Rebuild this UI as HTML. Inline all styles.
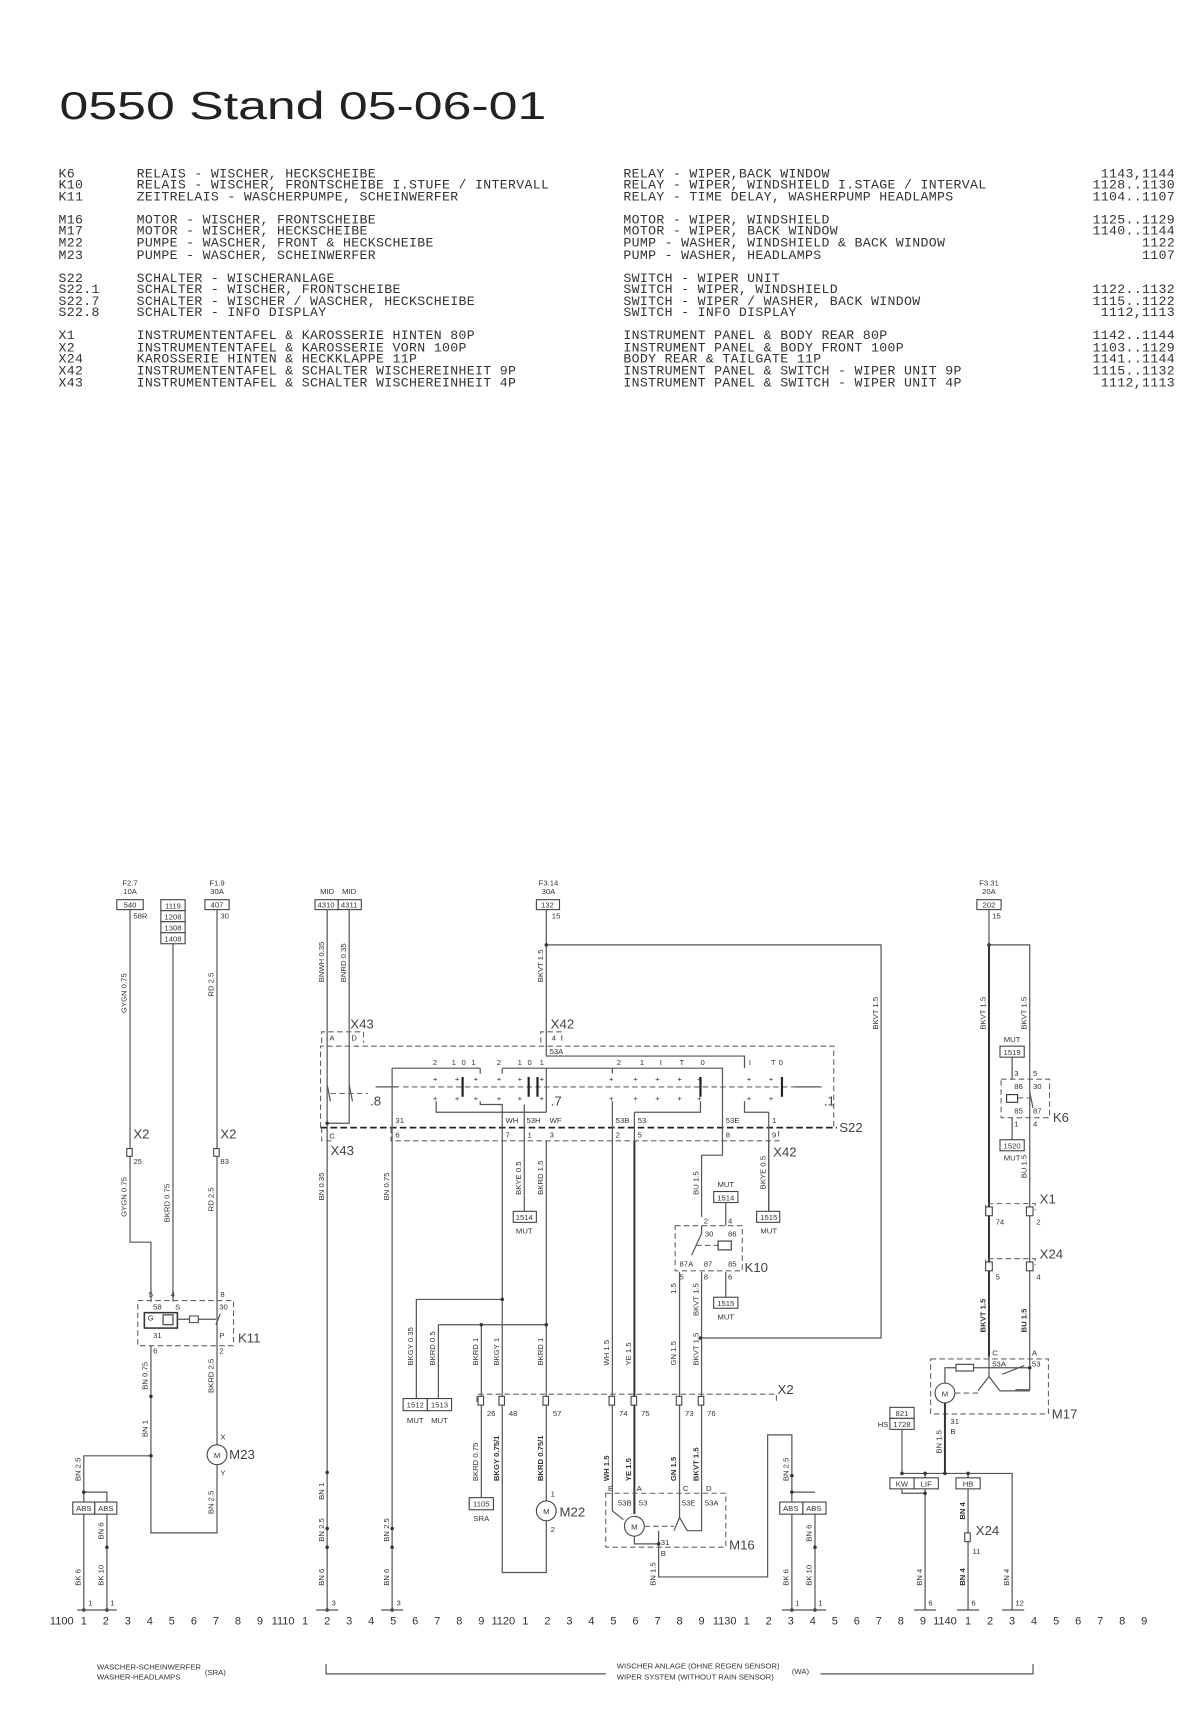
<!DOCTYPE html>
<html><head><meta charset="utf-8"><style>
html,body{margin:0;padding:0;background:#fff;}
svg{display:block}
.m{font-family:"Liberation Mono",monospace;font-size:12px;fill:#333;letter-spacing:0.3px}
.t{font-family:"Liberation Sans",sans-serif;fill:#222}
.s{font-family:"Liberation Sans",sans-serif;font-size:7px;fill:#333}
.l{font-family:"Liberation Sans",sans-serif;font-size:12px;fill:#444}
.n{font-family:"Liberation Sans",sans-serif;font-size:10px;fill:#333}
.w{stroke:#555;stroke-width:1.1;fill:none}
.W{stroke:#333;stroke-width:1.8;fill:none}
.d{stroke:#666;stroke-width:1;fill:none;stroke-dasharray:5,3}
.D{stroke:#222;stroke-width:1.6;fill:none;stroke-dasharray:6,3}
.b{stroke:#444;stroke-width:1;fill:#fff}
</style></head><body>
<svg width="1195" height="1719" viewBox="0 0 1085 1561" xmlns="http://www.w3.org/2000/svg">
<text class="t" x="54" y="108" font-size="35" textLength="442" lengthAdjust="spacingAndGlyphs">0550 Stand 05-06-01</text>

<g class="m">
<text x="53" y="161">K6</text><text x="124" y="161">RELAIS - WISCHER, HECKSCHEIBE</text>
<text x="53" y="171">K10</text><text x="124" y="171">RELAIS - WISCHER, FRONTSCHEIBE I.STUFE / INTERVALL</text>
<text x="53" y="182">K11</text><text x="124" y="182">ZEITRELAIS - WASCHERPUMPE, SCHEINWERFER</text>
<text x="53" y="203">M16</text><text x="124" y="203">MOTOR - WISCHER, FRONTSCHEIBE</text>
<text x="53" y="213">M17</text><text x="124" y="213">MOTOR - WISCHER, HECKSCHEIBE</text>
<text x="53" y="224">M22</text><text x="124" y="224">PUMPE - WASCHER, FRONT &amp; HECKSCHEIBE</text>
<text x="53" y="235">M23</text><text x="124" y="235">PUMPE - WASCHER, SCHEINWERFER</text>
<text x="53" y="256">S22</text><text x="124" y="256">SCHALTER - WISCHERANLAGE</text>
<text x="53" y="266">S22.1</text><text x="124" y="266">SCHALTER - WISCHER, FRONTSCHEIBE</text>
<text x="53" y="277">S22.7</text><text x="124" y="277">SCHALTER - WISCHER / WASCHER, HECKSCHEIBE</text>
<text x="53" y="287">S22.8</text><text x="124" y="287">SCHALTER - INFO DISPLAY</text>
<text x="53" y="308">X1</text><text x="124" y="308">INSTRUMENTENTAFEL &amp; KAROSSERIE HINTEN 80P</text>
<text x="53" y="319">X2</text><text x="124" y="319">INSTRUMENTENTAFEL &amp; KAROSSERIE VORN 100P</text>
<text x="53" y="329">X24</text><text x="124" y="329">KAROSSERIE HINTEN &amp; HECKKLAPPE 11P</text>
<text x="53" y="340">X42</text><text x="124" y="340">INSTRUMENTENTAFEL &amp; SCHALTER WISCHEREINHEIT 9P</text>
<text x="53" y="351">X43</text><text x="124" y="351">INSTRUMENTENTAFEL &amp; SCHALTER WISCHEREINHEIT 4P</text>

<text x="566" y="161">RELAY - WIPER,BACK WINDOW</text>
<text x="566" y="171">RELAY - WIPER, WINDSHIELD I.STAGE / INTERVAL</text>
<text x="566" y="182">RELAY - TIME DELAY, WASHERPUMP HEADLAMPS</text>
<text x="566" y="203">MOTOR - WIPER, WINDSHIELD</text>
<text x="566" y="213">MOTOR - WIPER, BACK WINDOW</text>
<text x="566" y="224">PUMP - WASHER, WINDSHIELD &amp; BACK WINDOW</text>
<text x="566" y="235">PUMP - WASHER, HEADLAMPS</text>
<text x="566" y="256">SWITCH - WIPER UNIT</text>
<text x="566" y="266">SWITCH - WIPER, WINDSHIELD</text>
<text x="566" y="277">SWITCH - WIPER / WASHER, BACK WINDOW</text>
<text x="566" y="287">SWITCH - INFO DISPLAY</text>
<text x="566" y="308">INSTRUMENT PANEL &amp; BODY REAR 80P</text>
<text x="566" y="319">INSTRUMENT PANEL &amp; BODY FRONT 100P</text>
<text x="566" y="329">BODY REAR &amp; TAILGATE 11P</text>
<text x="566" y="340">INSTRUMENT PANEL &amp; SWITCH - WIPER UNIT 9P</text>
<text x="566" y="351">INSTRUMENT PANEL &amp; SWITCH - WIPER UNIT 4P</text>
<g text-anchor="end">
<text x="1067" y="161">1143,1144</text><text x="1067" y="171">1128..1130</text><text x="1067" y="182">1104..1107</text>
<text x="1067" y="203">1125..1129</text><text x="1067" y="213">1140..1144</text><text x="1067" y="224">1122</text><text x="1067" y="235">1107</text>
<text x="1067" y="266">1122..1132</text><text x="1067" y="277">1115..1122</text><text x="1067" y="287">1112,1113</text>
<text x="1067" y="308">1142..1144</text><text x="1067" y="319">1103..1129</text><text x="1067" y="329">1141..1144</text><text x="1067" y="340">1115..1132</text><text x="1067" y="351">1112,1113</text>
</g></g>

<!-- ===== LEFT SECTION ===== -->
<text class="s" x="118" y="804" text-anchor="middle">F2.7</text><text class="s" x="118" y="812" text-anchor="middle">10A</text>
<rect class="b" x="106" y="817" width="24" height="9"/><text class="s" x="118" y="824" text-anchor="middle">540</text>
<text class="s" x="121" y="834">58R</text>
<rect class="b" x="146" y="817" width="22" height="10"/><text class="s" x="157" y="825" text-anchor="middle">1119</text>
<rect class="b" x="146" y="827" width="22" height="10"/><text class="s" x="157" y="835" text-anchor="middle">1208</text>
<rect class="b" x="146" y="837" width="22" height="10"/><text class="s" x="157" y="845" text-anchor="middle">1308</text>
<rect class="b" x="146" y="847" width="22" height="10"/><text class="s" x="157" y="855" text-anchor="middle">1408</text>
<text class="s" x="197" y="804" text-anchor="middle">F1.9</text><text class="s" x="197" y="812" text-anchor="middle">30A</text>
<rect class="b" x="186" y="817" width="22" height="9"/><text class="s" x="197" y="824" text-anchor="middle">407</text>
<text class="s" x="200" y="834">30</text>

<path class="w" d="M118 826 V1128 H137 V1182 M157 857 V1182 M197 826 V1312 M197 1330 V1392 H137 V1222 M137 1322 H76 V1462 M76 1355 H97 V1462"/>
<rect x="115" y="1043" width="5" height="7" fill="#fff" stroke="#444"/><text class="l" x="121" y="1034">X2</text><text class="s" x="121" y="1057">25</text>
<rect x="194" y="1043" width="5" height="7" fill="#fff" stroke="#444"/><text class="l" x="200" y="1034">X2</text><text class="s" x="200" y="1057">83</text>
<g class="s">
<text transform="translate(115,920) rotate(-90)">GYGN 0.75</text>
<text transform="translate(115,1105) rotate(-90)">GYGN 0.75</text>
<text transform="translate(154,1110) rotate(-90)">BKRD 0.75</text>
<text transform="translate(194,905) rotate(-90)">RD 2.5</text>
<text transform="translate(194,1100) rotate(-90)">RD 2.5</text>
<text transform="translate(134,1262) rotate(-90)">BN 0.75</text>
<text transform="translate(134,1305) rotate(-90)">BN 1</text>
<text transform="translate(194,1265) rotate(-90)">BKRD 2.5</text>
<text transform="translate(194,1375) rotate(-90)">BN 2.5</text>
<text transform="translate(73,1345) rotate(-90)">BN 2.5</text>
<text transform="translate(94,1398) rotate(-90)">BN 6</text>
<text transform="translate(73,1440) rotate(-90)">BK 6</text>
<text transform="translate(94,1440) rotate(-90)">BK 10</text>
</g>
<!-- K11 -->
<rect class="d" x="125" y="1181" width="87" height="41"/>
<text class="s" x="135" y="1178">5</text><text class="s" x="155" y="1178">4</text><text class="s" x="200" y="1178">8</text>
<text class="s" x="139" y="1189">58</text><text class="s" x="159" y="1189">S</text><text class="s" x="199" y="1189">30</text>
<rect x="131" y="1192" width="30" height="14" fill="none" stroke="#333" stroke-width="1.4"/>
<text class="s" x="134" y="1199">G</text><rect x="148" y="1194" width="9" height="9" fill="none" stroke="#333"/>
<path class="w" d="M161 1198 H172 M172 1195 h8 v6 h-8 z M180 1198 h8 M188 1198 h8" />
<path class="w" d="M196 1203 L200 1193"/>
<text class="s" x="139" y="1215">31</text><text class="s" x="199" y="1215">P</text>
<text class="s" x="139" y="1229">6</text><text class="s" x="199" y="1229">2</text>
<text class="l" x="216" y="1219">K11</text>
<!-- M23 -->
<circle cx="197" cy="1321" r="9" fill="#fff" stroke="#444"/><text class="s" x="197" y="1324" text-anchor="middle">M</text>
<text class="s" x="200" y="1307">X</text><text class="s" x="200" y="1340">Y</text>
<text class="l" x="208" y="1325">M23</text>
<rect class="b" x="66" y="1364" width="20" height="11"/><rect class="b" x="86" y="1364" width="20" height="11"/>
<text class="s" x="76" y="1372" text-anchor="middle">ABS</text><text class="s" x="96" y="1372" text-anchor="middle">ABS</text>
<g fill="#333"><circle cx="137" cy="1268" r="1.6"/><circle cx="137" cy="1322" r="1.6"/><circle cx="76" cy="1355" r="1.6"/><circle cx="97" cy="1405" r="1.6"/><circle cx="76" cy="1462" r="1.6"/><circle cx="97" cy="1462" r="1.6"/></g>
<path class="w" d="M70 1462 H106"/><text class="s" x="80" y="1458">1</text><text class="s" x="100" y="1458">1</text>

<!-- ===== MIDDLE SECTION ===== -->
<text class="s" x="297" y="812" text-anchor="middle">MID</text><text class="s" x="317" y="812" text-anchor="middle">MID</text>
<rect class="b" x="286" y="817" width="21" height="9"/><rect class="b" x="307" y="817" width="21" height="9"/>
<text class="s" x="296" y="824" text-anchor="middle">4310</text><text class="s" x="317" y="824" text-anchor="middle">4311</text>
<text class="s" x="498" y="804" text-anchor="middle">F3.14</text><text class="s" x="498" y="812" text-anchor="middle">30A</text>
<rect class="b" x="487" y="817" width="21" height="9"/><text class="s" x="497" y="824" text-anchor="middle">132</text>
<text class="s" x="501" y="834">15</text>

<path class="w" d="M297 826 V1462 M317 826 V1020 H297 M496 826 V947 M496 858 H800 V1215 H636"/>
<g class="s">
<text transform="translate(294,892) rotate(-90)">BNWH 0.35</text>
<text transform="translate(314,892) rotate(-90)">BNRD 0.35</text>
<text transform="translate(493,892) rotate(-90)">BKVT 1.5</text>
<text transform="translate(797,935) rotate(-90)">BKVT 1.5</text>
<text transform="translate(294,1090) rotate(-90)">BN 0.35</text>
<text transform="translate(353,1090) rotate(-90)">BN 0.75</text>
</g>
<!-- X43 / X42 top -->
<path class="d" d="M292 947 V937 H330 V947 M491 947 V937 H510 V947"/>
<text class="s" x="299" y="945">A</text><text class="s" x="319" y="945">D</text><text class="s" x="501" y="945">4</text>
<text class="l" x="318" y="934">X43</text><text class="l" x="500" y="934">X42</text>
<!-- S22 box -->
<path class="d" d="M291 1024 V950 H757 V1024"/>
<path class="D" d="M291 1024 H760"/>
<path class="d" d="M355 1024 V1036 H707 V1024 M292 1024 V1036 H304"/>
<text class="l" x="762" y="1028">S22</text>
<text class="s" x="299" y="1034">C</text><text class="l" x="300" y="1049">X43</text>
<text class="s" x="359" y="1033">6</text><text class="s" x="459" y="1033">7</text><text class="s" x="479" y="1033">1</text><text class="s" x="499" y="1033">3</text>
<text class="s" x="559" y="1033">2</text><text class="s" x="579" y="1033">5</text><text class="s" x="659" y="1033">8</text><text class="s" x="701" y="1033">9</text>
<text class="l" x="702" y="1050">X42</text>
<text class="s" x="359" y="1020">31</text><text class="s" x="459" y="1020">WH</text><text class="s" x="478" y="1020">53H</text><text class="s" x="499" y="1020">WF</text>
<text class="s" x="559" y="1020">53B</text><text class="s" x="579" y="1020">53</text><text class="s" x="659" y="1020">53E</text><text class="s" x="701" y="1020">1</text>
<text class="s" x="499" y="957">53A</text>
<!-- switch .8 -->
<path class="w" d="M297 985 L300 1000 M317 985 L320 1000"/>
<path class="d" d="M300 993 H334"/><text class="l" x="336" y="1004">.8</text>
<!-- S22 internals -->
<path class="w" d="M496 947 V959 H676 V970 M356 970 H436 M456 970 H496 H656 V1049 H637 M436 970 V975 M456 970 V975"/>
<path class="w" d="M356 970 V1462 M456 1010 V1180 M476 1010 V1100 M496 970 V1010 M556 970 V975 M556 1000 V1362 M576 1010 V1362 M698 1010 V1110"/>
<path class="w" d="M396 1000 V1010 H496 M436 1000 V1003 H456 V1010 M476 1003 V1010 M576 1010 H636 V1000 M676 1000 V1010 H698"/>
<path class="d" d="M366 987 H742"/>
<path stroke="#222" stroke-width="2" d="M420 978 V996 M480 978 V996 M488 978 V996 M636 978 V996 M710 978 V996"/>
<path class="w" d="M341 987 H362 M722 987 H746"/>
<g class="s">
<text x="393" y="967">2</text><text x="410" y="967">1</text><text x="419" y="967">0</text><text x="428" y="967">1</text>
<text x="451" y="967">2</text><text x="470" y="967">1</text><text x="479" y="967">0</text><text x="490" y="967">1</text>
<text x="560" y="967">2</text><text x="581" y="967">1</text><text x="599" y="967">I</text><text x="617" y="967">T</text><text x="636" y="967">0</text>
<text x="680" y="967">I</text><text x="700" y="967">T</text><text x="707" y="967">0</text>
</g>
<g class="s" fill="#444">
<text x="393" y="982">+</text><text x="413" y="982">+</text><text x="430" y="982">+</text><text x="451" y="982">+</text><text x="470" y="982">+</text><text x="490" y="982">+</text>
<text x="393" y="1000">+</text><text x="413" y="1000">+</text><text x="430" y="1000">+</text><text x="451" y="1000">+</text><text x="470" y="1000">+</text><text x="490" y="1000">+</text>
<text x="553" y="982">+</text><text x="575" y="982">+</text><text x="595" y="982">+</text><text x="615" y="982">+</text><text x="633" y="982">+</text><text x="678" y="982">+</text><text x="698" y="982">+</text>
<text x="553" y="1000">+</text><text x="575" y="1000">+</text><text x="595" y="1000">+</text><text x="615" y="1000">+</text><text x="633" y="1000">+</text><text x="678" y="1000">+</text><text x="698" y="1000">+</text>
</g>
<text class="l" x="500" y="1004">.7</text><text class="l" x="748" y="1004">.1</text>

<!-- below S22 -->
<path class="w" d="M456 1180 H378 V1270 M496 1036 V1365 M496 1380 V1428 H456 V1180 M496 1203 H398 V1270 M437 1203 V1360 M476 1100 V1110"/>
<path class="W" d="M576 1036 V1375"/>
<path class="w" d="M637 1049 V1105 M659 1092 V1113 M617 1155 V1362 M637 1155 V1362 M659 1155 V1178 M698 1036 V1110"/>
<g class="s">
<text transform="translate(473,1085) rotate(-90)">BKYE 0.5</text>
<text transform="translate(493,1085) rotate(-90)">BKRD 1.5</text>
<text transform="translate(634,1085) rotate(-90)">BU 1.5</text>
<text transform="translate(695,1080) rotate(-90)">BKYE 0.5</text>
<text transform="translate(634,1195) rotate(-90)">BKVT 1.5</text>
<text transform="translate(614,1175) rotate(-90)">1.5</text>
<text transform="translate(375,1240) rotate(-90)">BKGY 0.35</text>
<text transform="translate(395,1240) rotate(-90)">BKRD 0.5</text>
<text transform="translate(434,1240) rotate(-90)">BKRD 1</text>
<text transform="translate(453,1240) rotate(-90)">BKGY 1</text>
<text transform="translate(493,1240) rotate(-90)">BKRD 1</text>
<text transform="translate(553,1240) rotate(-90)">WH 1.5</text>
<text transform="translate(573,1240) rotate(-90)">YE 1.5</text>
<text transform="translate(614,1240) rotate(-90)">GN 1.5</text>
<text transform="translate(634,1240) rotate(-90)">BKVT 1.5</text>
<text transform="translate(434,1345) rotate(-90)">BKRD 0.75</text>
<text transform="translate(453,1345) rotate(-90)" font-weight="bold">BKGY 0.75/1</text>
<text transform="translate(493,1345) rotate(-90)" font-weight="bold">BKRD 0.75/1</text>
<text transform="translate(553,1345) rotate(-90)" font-weight="bold">WH 1.5</text>
<text transform="translate(573,1345) rotate(-90)" font-weight="bold">YE 1.5</text>
<text transform="translate(614,1345) rotate(-90)" font-weight="bold">GN 1.5</text>
<text transform="translate(634,1345) rotate(-90)" font-weight="bold">BKVT 1.5</text>
<text transform="translate(294,1362) rotate(-90)">BN 1</text>
<text transform="translate(294,1400) rotate(-90)">BN 2.5</text>
<text transform="translate(294,1440) rotate(-90)">BN 6</text>
<text transform="translate(353,1400) rotate(-90)">BN 2.5</text>
<text transform="translate(353,1440) rotate(-90)">BN 6</text>
<text transform="translate(595,1440) rotate(-90)">BN 1.5</text>
<text transform="translate(716,1345) rotate(-90)">BN 2.5</text>
<text transform="translate(716,1440) rotate(-90)">BK 6</text>
<text transform="translate(737,1400) rotate(-90)">BN 6</text>
<text transform="translate(737,1440) rotate(-90)">BK 10</text>
</g>
<rect class="b" x="466" y="1100" width="21" height="10"/><text class="s" x="476" y="1108" text-anchor="middle">1514</text><text class="s" x="476" y="1120" text-anchor="middle">MUT</text>
<rect class="b" x="687" y="1100" width="21" height="10"/><text class="s" x="698" y="1108" text-anchor="middle">1515</text><text class="s" x="698" y="1120" text-anchor="middle">MUT</text>
<text class="s" x="659" y="1078" text-anchor="middle">MUT</text>
<rect class="b" x="648" y="1082" width="22" height="10"/><text class="s" x="659" y="1090" text-anchor="middle">1514</text>
<rect class="b" x="648" y="1178" width="22" height="10"/><text class="s" x="659" y="1186" text-anchor="middle">1515</text><text class="s" x="659" y="1198" text-anchor="middle">MUT</text>
<!-- K10 -->
<rect class="d" x="613" y="1113" width="61" height="41"/>
<text class="s" x="639" y="1111">2</text><text class="s" x="661" y="1111">4</text>
<text class="s" x="640" y="1123">30</text><text class="s" x="661" y="1123">86</text>
<path class="w" d="M637 1113 V1120 L628 1140"/><path class="d" d="M632 1131 H652"/><rect x="652" y="1127" width="12" height="8" fill="none" stroke="#333"/>
<text class="s" x="617" y="1150">87A</text><text class="s" x="639" y="1150">87</text><text class="s" x="661" y="1150">85</text>
<text class="s" x="617" y="1162">5</text><text class="s" x="639" y="1162">8</text><text class="s" x="661" y="1162">6</text>
<text class="l" x="676" y="1155">K10</text>
<!-- MUT boxes 1512/1513, 1105 -->
<rect class="b" x="366" y="1270" width="22" height="11"/><rect class="b" x="388" y="1270" width="22" height="11"/>
<text class="s" x="377" y="1278" text-anchor="middle">1512</text><text class="s" x="399" y="1278" text-anchor="middle">1513</text>
<text class="s" x="377" y="1292" text-anchor="middle">MUT</text><text class="s" x="399" y="1292" text-anchor="middle">MUT</text>
<rect class="b" x="426" y="1360" width="22" height="11"/><text class="s" x="437" y="1368" text-anchor="middle">1105</text><text class="s" x="437" y="1381" text-anchor="middle">SRA</text>
<!-- X2 middle -->
<path class="d" d="M433 1273 V1266 H705 V1273"/><text class="l" x="706" y="1266">X2</text>
<g fill="#fff" stroke="#444"><rect x="434" y="1268" width="5" height="8"/><rect x="453" y="1268" width="5" height="8"/><rect x="493" y="1268" width="5" height="8"/><rect x="553" y="1268" width="5" height="8"/><rect x="573" y="1268" width="5" height="8"/><rect x="614" y="1268" width="5" height="8"/><rect x="634" y="1268" width="5" height="8"/></g>
<g class="s"><text x="442" y="1286">26</text><text x="462" y="1286">48</text><text x="502" y="1286">57</text><text x="562" y="1286">74</text><text x="582" y="1286">75</text><text x="622" y="1286">73</text><text x="642" y="1286">76</text></g>
<!-- M22 -->
<circle cx="496" cy="1372" r="9" fill="#fff" stroke="#444"/><text class="s" x="496" y="1375" text-anchor="middle">M</text>
<text class="s" x="500" y="1359">1</text><text class="s" x="500" y="1391">2</text><text class="l" x="508" y="1377">M22</text>
<!-- M16 -->
<rect class="d" x="550" y="1356" width="109" height="49"/>
<text class="s" x="552" y="1354">E</text><text class="s" x="578" y="1354">A</text><text class="s" x="620" y="1354">C</text><text class="s" x="641" y="1354">D</text>
<text class="s" x="561" y="1367">53B</text><text class="s" x="580" y="1367">53</text><text class="s" x="619" y="1367">53E</text><text class="s" x="640" y="1367">53A</text>
<path class="w" d="M556 1362 V1372 L566 1380 M617 1362 V1378 L612 1390 M617 1378 L624 1390 H637 V1362"/>
<circle cx="576" cy="1386" r="9" fill="#fff" stroke="#444"/><text class="s" x="576" y="1389" text-anchor="middle">M</text>
<path class="d" d="M585 1386 H612"/>
<path class="w" d="M576 1395 V1402 H598 M598 1390 V1432 H697 V1303 H719 V1462 M740 1364 V1462 M719 1355 H740"/>
<text class="s" x="600" y="1403">31</text><text class="s" x="600" y="1413">B</text><text class="l" x="662" y="1407">M16</text>
<rect class="b" x="708" y="1364" width="21" height="11"/><rect class="b" x="729" y="1364" width="21" height="11"/>
<text class="s" x="718" y="1372" text-anchor="middle">ABS</text><text class="s" x="739" y="1372" text-anchor="middle">ABS</text>
<g fill="#333"><circle cx="496" cy="858" r="1.6"/><circle cx="297" cy="1020" r="1.6"/><circle cx="456" cy="1180" r="1.6"/><circle cx="496" cy="1203" r="1.6"/><circle cx="437" cy="1203" r="1.6"/><circle cx="636" cy="1215" r="1.6"/><circle cx="297" cy="1337" r="1.6"/><circle cx="297" cy="1388" r="1.6"/><circle cx="297" cy="1405" r="1.6"/><circle cx="356" cy="1388" r="1.6"/><circle cx="356" cy="1405" r="1.6"/><circle cx="598" cy="1402" r="1.6"/><circle cx="719" cy="1340" r="1.6"/><circle cx="719" cy="1355" r="1.6"/><circle cx="740" cy="1405" r="1.6"/>
<circle cx="297" cy="1462" r="1.6"/><circle cx="356" cy="1462" r="1.6"/><circle cx="719" cy="1462" r="1.6"/><circle cx="740" cy="1462" r="1.6"/></g>
<path class="w" d="M287 1462 H307 M346 1462 H366 M710 1462 H750"/>
<text class="s" x="301" y="1458">3</text><text class="s" x="360" y="1458">3</text><text class="s" x="722" y="1458">1</text><text class="s" x="743" y="1458">1</text>

<!-- ===== RIGHT SECTION ===== -->
<text class="s" x="898" y="804" text-anchor="middle">F3.31</text><text class="s" x="898" y="812" text-anchor="middle">20A</text>
<rect class="b" x="887" y="817" width="22" height="9"/><text class="s" x="898" y="824" text-anchor="middle">202</text>
<text class="s" x="901" y="834">15</text>
<path class="w" d="M898 826 V1232 M898 858 H935 V1262 H922 M919 960 V980 M919 1015 V1035"/>
<path class="W" d="M898 858 V1232"/>
<g class="s">
<text transform="translate(895,935) rotate(-90)">BKVT 1.5</text>
<text transform="translate(932,935) rotate(-90)">BKVT 1.5</text>
<text transform="translate(932,1070) rotate(-90)">BU 1.5</text>
<text transform="translate(895,1210) rotate(-90)" font-weight="bold">BKVT 1.5</text>
<text transform="translate(932,1210) rotate(-90)" font-weight="bold">BU 1.5</text>
<text transform="translate(855,1320) rotate(-90)">BN 1.5</text>
<text transform="translate(837,1440) rotate(-90)">BN 4</text>
<text transform="translate(876,1380) rotate(-90)" font-weight="bold">BN 4</text>
<text transform="translate(876,1440) rotate(-90)" font-weight="bold">BN 4</text>
<text transform="translate(916,1440) rotate(-90)">BN 4</text>
</g>
<text class="s" x="919" y="946" text-anchor="middle">MUT</text>
<rect class="b" x="908" y="950" width="22" height="10"/><text class="s" x="919" y="958" text-anchor="middle">1519</text>
<rect class="d" x="909" y="980" width="44" height="35"/>
<text class="s" x="921" y="977">3</text><text class="s" x="938" y="977">5</text>
<text class="s" x="921" y="989">86</text><text class="s" x="938" y="989">30</text>
<rect x="914" y="994" width="10" height="7" fill="none" stroke="#333"/><path class="d" d="M924 997 H934"/><path class="w" d="M935 992 L938 1006"/>
<text class="s" x="921" y="1011">85</text><text class="s" x="938" y="1011">87</text>
<text class="s" x="921" y="1023">1</text><text class="s" x="938" y="1023">4</text>
<text class="l" x="956" y="1019">K6</text>
<rect class="b" x="908" y="1035" width="22" height="10"/><text class="s" x="919" y="1043" text-anchor="middle">1520</text><text class="s" x="919" y="1054" text-anchor="middle">MUT</text>
<path class="d" d="M895 1099 V1093 H940 V1099 M895 1149 V1143 H940 V1149"/>
<g fill="#fff" stroke="#444"><rect x="895" y="1096" width="6" height="8"/><rect x="932" y="1096" width="6" height="8"/><rect x="895" y="1146" width="6" height="8"/><rect x="932" y="1146" width="6" height="8"/></g>
<text class="l" x="944" y="1093">X1</text><text class="l" x="944" y="1143">X24</text>
<text class="s" x="904" y="1112">74</text><text class="s" x="941" y="1112">2</text><text class="s" x="904" y="1162">5</text><text class="s" x="941" y="1162">4</text>
<!-- M17 -->
<rect class="d" x="845" y="1234" width="107" height="50"/>
<text class="s" x="901" y="1231">C</text><text class="s" x="937" y="1231">A</text>
<text class="s" x="901" y="1241">53A</text><text class="s" x="937" y="1241">53</text>
<path class="w" d="M858 1256 V1242 H868 M868 1239 h16 v6 h-16 z M884 1242 H935 M910 1248 L930 1240 M898 1232 V1250 L888 1263 M898 1250 L908 1263 H935"/>
<circle cx="858" cy="1265" r="9" fill="#fff" stroke="#444"/><text class="s" x="858" y="1268" text-anchor="middle">M</text>
<path class="d" d="M867 1265 H890"/>
<path class="W" d="M858 1274 V1338"/>
<text class="s" x="863" y="1293">31</text><text class="s" x="863" y="1302">B</text><text class="l" x="955" y="1288">M17</text>
<rect class="b" x="808" y="1278" width="22" height="10"/><rect class="b" x="808" y="1288" width="22" height="10"/>
<text class="s" x="819" y="1286" text-anchor="middle">821</text><text class="s" x="819" y="1296" text-anchor="middle">1728</text><text class="s" x="797" y="1296">HS</text>
<path class="w" d="M819 1298 V1338 H919 V1462 M840 1338 V1462 M879 1338 V1462 M819 1352 V1356 H840"/>
<rect class="b" x="808" y="1342" width="22" height="10"/><rect class="b" x="830" y="1342" width="22" height="10"/>
<text class="s" x="819" y="1350" text-anchor="middle">KW</text><text class="s" x="841" y="1350" text-anchor="middle">LIF</text>
<rect class="b" x="868" y="1342" width="22" height="10"/><text class="s" x="879" y="1350" text-anchor="middle">HB</text>
<rect x="876" y="1392" width="5" height="8" fill="#fff" stroke="#444"/><text class="l" x="886" y="1394">X24</text><text class="s" x="883" y="1411">11</text>
<g fill="#333"><circle cx="898" cy="858" r="1.6"/><circle cx="935" cy="1242" r="1.6"/><circle cx="819" cy="1338" r="1.6"/><circle cx="840" cy="1338" r="1.6"/><circle cx="858" cy="1338" r="1.6"/><circle cx="879" cy="1338" r="1.6"/><circle cx="840" cy="1356" r="1.6"/></g>
<path class="w" d="M830 1462 H850 M869 1462 H889 M910 1462 H930"/>
<text class="s" x="843" y="1458">6</text><text class="s" x="882" y="1458">6</text><text class="s" x="922" y="1458">12</text>

<!-- ruler -->
<g class="n" text-anchor="middle">
<text x="56" y="1475">1100</text><text x="76" y="1475">1</text><text x="96" y="1475">2</text><text x="116" y="1475">3</text><text x="136" y="1475">4</text><text x="156" y="1475">5</text><text x="176" y="1475">6</text><text x="196" y="1475">7</text><text x="216" y="1475">8</text><text x="236" y="1475">9</text>
<text x="257" y="1475">1110</text><text x="277" y="1475">1</text><text x="297" y="1475">2</text><text x="317" y="1475">3</text><text x="337" y="1475">4</text><text x="357" y="1475">5</text><text x="377" y="1475">6</text><text x="397" y="1475">7</text><text x="417" y="1475">8</text><text x="437" y="1475">9</text>
<text x="457" y="1475">1120</text><text x="477" y="1475">1</text><text x="497" y="1475">2</text><text x="517" y="1475">3</text><text x="537" y="1475">4</text><text x="557" y="1475">5</text><text x="577" y="1475">6</text><text x="597" y="1475">7</text><text x="617" y="1475">8</text><text x="637" y="1475">9</text>
<text x="658" y="1475">1130</text><text x="678" y="1475">1</text><text x="698" y="1475">2</text><text x="718" y="1475">3</text><text x="738" y="1475">4</text><text x="758" y="1475">5</text><text x="778" y="1475">6</text><text x="798" y="1475">7</text><text x="818" y="1475">8</text><text x="838" y="1475">9</text>
<text x="858" y="1475">1140</text><text x="879" y="1475">1</text><text x="899" y="1475">2</text><text x="919" y="1475">3</text><text x="939" y="1475">4</text><text x="959" y="1475">5</text><text x="979" y="1475">6</text><text x="999" y="1475">7</text><text x="1019" y="1475">8</text><text x="1039" y="1475">9</text>
</g>
<!-- footer -->
<text class="s" x="88" y="1516">WASCHER-SCHEINWERFER</text><text class="s" x="88" y="1525">WASHER-HEADLAMPS</text><text class="s" x="186" y="1521">(SRA)</text>
<path class="w" d="M296 1511 V1520 H550 M745 1520 H938 V1511"/>
<text class="s" x="560" y="1515">WISCHER ANLAGE (OHNE REGEN SENSOR)</text><text class="s" x="560" y="1525">WIPER SYSTEM (WITHOUT RAIN SENSOR)</text><text class="s" x="719" y="1520">(WA)</text>
</svg>
</body></html>
